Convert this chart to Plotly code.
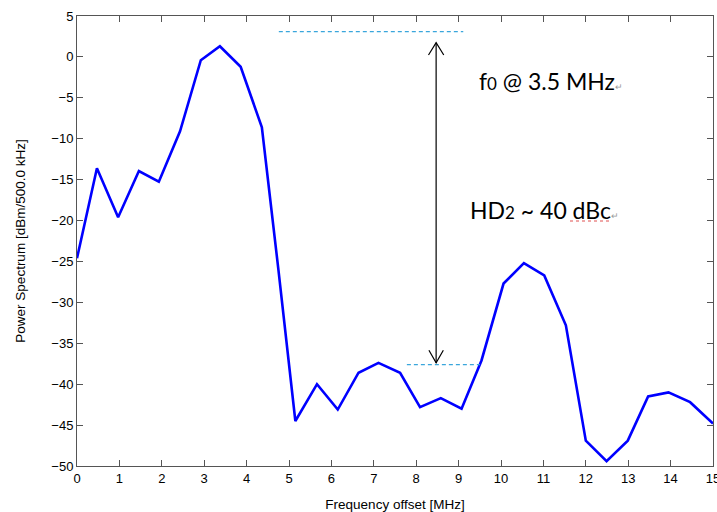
import plotly.graph_objects as go

# Spectrum samples: frequency offset [MHz] and power [dBm/500 kHz]
freq_mhz = [0.0, 0.47, 0.97, 1.46, 1.93, 2.43, 2.92, 3.37, 3.86, 4.36, 4.75,
            5.15, 5.66, 6.15, 6.64, 7.11, 7.62, 8.09, 8.58, 9.07, 9.54,
            10.06, 10.54, 11.02, 11.53, 12.0, 12.49, 12.99, 13.47, 13.95,
            14.46, 15.0]
power_dbm = [-24.6, -13.6, -19.6, -13.95, -15.25, -9.1, -0.4, 1.3, -1.2, -8.6,
             -26.0, -44.5, -40.0, -43.1, -38.6, -37.4, -38.6, -42.8, -41.7,
             -43.0, -37.1, -27.7, -25.2, -26.7, -32.8, -46.9, -49.4, -46.9,
             -41.5, -41.0, -42.2, -44.8]

# Reference levels for the fundamental and the 2nd harmonic
fund_level = 3.1
hd2_level = -37.6
fund_span = [4.76, 9.11]
hd2_span = [7.78, 9.5]
arrow_x = 8.47
arrow_top = 1.74
arrow_bottom = -37.4

x_ticks = list(range(0, 16))
y_ticks = list(range(-50, 6, 5))

fig = go.Figure()
fig.add_trace(go.Scatter(
    x=freq_mhz, y=power_dbm, mode="lines",
    line=dict(color="#0000ff", width=2.6),
    showlegend=False, hoverinfo="skip",
))

dash_style = dict(color="#3aa6dc", width=1.3, dash="4px,3px")
shapes = [
    dict(type="line", xref="x", yref="y", x0=fund_span[0], x1=fund_span[1],
         y0=fund_level, y1=fund_level, line=dash_style),
    dict(type="line", xref="x", yref="y", x0=hd2_span[0], x1=hd2_span[1],
         y0=hd2_level, y1=hd2_level, line=dash_style),
    # double-headed arrow between the two levels
    dict(type="line", xref="x", yref="y", x0=arrow_x, x1=arrow_x,
         y0=arrow_top, y1=arrow_bottom, line=dict(color="black", width=1.2)),
    dict(type="path", xref="x", yref="y",
         path=f"M {arrow_x-0.18},{arrow_top-1.5} L {arrow_x},{arrow_top} L {arrow_x+0.18},{arrow_top-1.5}",
         line=dict(color="black", width=1.2)),
    dict(type="path", xref="x", yref="y",
         path=f"M {arrow_x-0.17},{arrow_bottom+1.55} L {arrow_x},{arrow_bottom} L {arrow_x+0.17},{arrow_bottom+1.55}",
         line=dict(color="black", width=1.2)),
    # spell-check squiggle under "dBc"
    dict(type="line", xref="paper", yref="paper",
         x0=(570 - 77) / 636, x1=(610 - 77) / 636,
         y0=(466 - 221) / 450, y1=(466 - 221) / 450,
         line=dict(color="#e05050", width=1, dash="dot")),
]

mark = '<span style="font-size:9px;color:#9a9a9a">\u21b5</span>'
small = '<span style="font-size:17px">{}</span>'
annotations = [
    dict(x=9.43, y=-3.0, xref="x", yref="y", xanchor="left", yanchor="middle",
         showarrow=False,
         text="f" + small.format("0") + " @ 3.5 MHz" + mark,
         font=dict(family="Lato, Open Sans, sans-serif", size=23, color="black")),
    dict(x=9.23, y=-18.7, xref="x", yref="y", xanchor="left", yanchor="middle",
         showarrow=False,
         text="HD" + small.format("2") + " ~ 40 dBc" + mark,
         font=dict(family="Lato, Open Sans, sans-serif", size=23, color="black")),
]

label_font = dict(family="Liberation Sans, Arial, sans-serif", size=13.5, color="black")
axis_common = dict(
    showgrid=False, zeroline=False, showline=True, mirror="ticks",
    linecolor="#555555", linewidth=1, ticks="inside", ticklen=6,
    tickcolor="#555555", tickwidth=1, ticklabeloverflow="allow",
    automargin=False,
    tickfont=dict(family="Liberation Sans, Arial, sans-serif", size=13, color="black"),
)

fig.update_layout(
    width=717, height=512,
    margin=dict(l=77, r=4, t=16, b=46),
    paper_bgcolor="white", plot_bgcolor="white",
    shapes=shapes, annotations=annotations,
    xaxis=dict(range=[0, 15], tickvals=x_ticks,
               title=dict(text="Frequency offset [MHz]", standoff=15, font=label_font),
               **axis_common),
    yaxis=dict(range=[-50, 5], tickvals=y_ticks,
               title=dict(text="Power Spectrum [dBm/500.0 kHz]", standoff=22, font=label_font),
               **axis_common),
)

fig.write_html("out.html")
